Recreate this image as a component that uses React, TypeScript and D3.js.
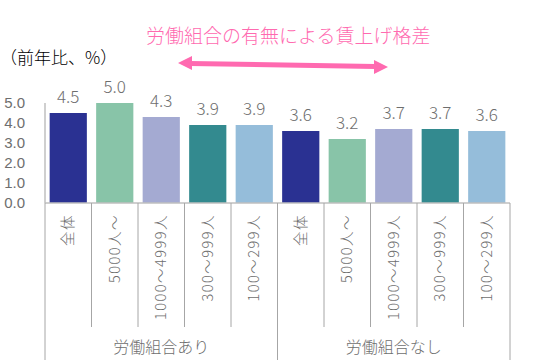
import React from "react";
import * as d3 from "d3";

const categories = ["全体", "5000人〜", "1000〜4999人", "300〜999人", "100〜299人", "全体", "5000人〜", "1000〜4999人", "300〜999人", "100〜299人"];
const values = [4.5, 5.0, 4.3, 3.9, 3.9, 3.6, 3.2, 3.7, 3.7, 3.6];
const groups = ["労働組合あり", "労働組合なし"];
const colors = ["#2A3192", "#88C4A8", "#A4AAD2", "#338A8F", "#95BDDA"];
const yTicks = [0, 1, 2, 3, 4, 5];

const FONT = "'Noto Sans CJK JP', sans-serif";

export default function App() {
  const W = 534, H = 362;
  const x0 = 45, x1 = 510, yBase = 203, yTop = 103;
  const x = d3.scaleBand<number>().domain(d3.range(categories.length)).range([x0, x1]).paddingInner(0.2).paddingOuter(0.1);
  const y = d3.scaleLinear().domain([0, 5]).range([yBase, yTop]);
  const step = (x1 - x0) / categories.length;
  const pink = "#FF6AB0";
  const gray = "#6E6E6E";
  return (
    <svg width={W} height={H} style={{ position: "absolute", left: 0, top: 0, background: "#fff" }} fontFamily={FONT} fontWeight={300}>
      <text x={146} y={43} fontSize={19} fill={pink}>労働組合の有無による賃上げ格差</text>
      <line x1={190} y1={63.5} x2={375} y2={66.5} stroke={pink} strokeWidth={5} />
      <path d="M178,63 L192,56 L192,70 Z" fill={pink} />
      <path d="M388,67 L374,60 L374,74 Z" fill={pink} />
      <text x={0} y={64} fontSize={17} fill="#000">（前年比、%）</text>
      {yTicks.map((t) => (
        <text key={t} x={25} y={y(t)} dy="0.36em" textAnchor="end" fontSize={15} fill={gray} fontFamily="'Liberation Sans', sans-serif" fontWeight={400}>{t.toFixed(1)}</text>
      ))}
      {values.map((v, i) => (
        <g key={i}>
          <rect x={x(i)!} y={y(v)} width={x.bandwidth()} height={yBase - y(v)} fill={colors[i % 5]} />
          <text x={x(i)! + x.bandwidth() / 2} y={y(v) - 10} textAnchor="middle" fontSize={17} fill={gray}>{v.toFixed(1)}</text>
        </g>
      ))}
      <line x1={x0} y1={yTop} x2={x0} y2={yBase} stroke="#BFBFBF" strokeWidth={1.5} />
      <line x1={x0} y1={yBase} x2={x1} y2={yBase} stroke="#BFBFBF" strokeWidth={1.5} />
      {d3.range(categories.length + 1).map((i) => {
        const isGroup = i % 5 === 0;
        return <line key={i} x1={x0 + i * step} y1={yBase} x2={x0 + i * step} y2={isGroup ? 360 : 327} stroke="#A6A6A6" strokeWidth={1} />;
      })}
      {categories.map((c, i) => {
        const cx = x(i)! + x.bandwidth() / 2;
        return (
          <text key={i} transform={`translate(${cx},214) rotate(-90)`} textAnchor="end" dy="0.35em" fontSize={14.5} letterSpacing={1.5} fill={gray}>{c}</text>
        );
      })}
      {groups.map((g, gi) => (
        <text key={g} x={x0 + (gi * 5 + 2.5) * step} y={347} dy="0.35em" textAnchor="middle" fontSize={16} fill={gray}>{g}</text>
      ))}
    </svg>
  );
}
